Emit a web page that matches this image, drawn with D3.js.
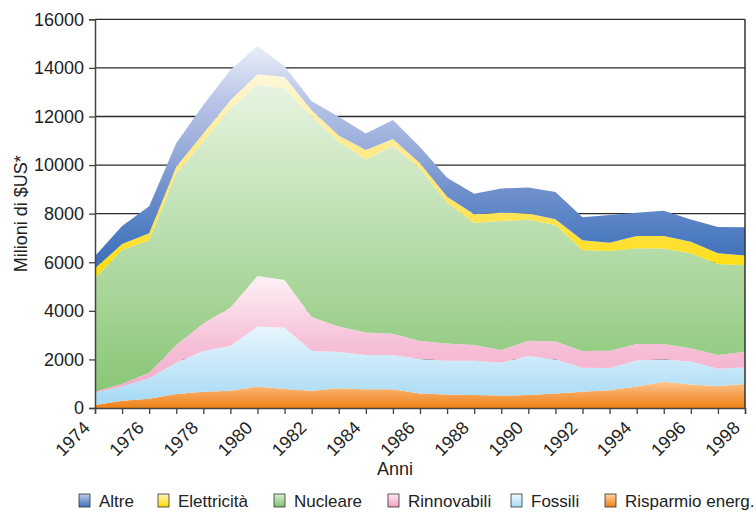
<!DOCTYPE html>
<html>
<head>
<meta charset="utf-8">
<script src="https://cdn.jsdelivr.net/npm/d3@7"></script>
<style>
  html, body { margin: 0; padding: 0; background: #fff; }
  svg { display: block; }
  text { font-family: "Liberation Sans", Arial, Helvetica, sans-serif; fill: #222; }
</style>
</head>
<body>
<svg id="chart" width="756" height="512"></svg>
<script>
// ---------- DATA ----------
const years = [1974,1975,1976,1977,1978,1979,1980,1981,1982,1983,1984,1985,1986,1987,1988,1989,1990,1991,1992,1993,1994,1995,1996,1997,1998];
const risparmio   = [120,300,380,580,670,710,880,780,710,810,770,770,600,560,530,510,530,600,670,730,880,1080,970,910,990];
const fossili     = [510,590,840,1280,1680,1840,2470,2520,1640,1490,1410,1410,1420,1390,1420,1350,1610,1400,990,920,1080,920,940,710,680];
const rinnovabili = [40,110,230,730,1130,1590,2080,1970,1400,1050,930,880,740,710,640,530,630,740,690,710,670,630,550,560,650];
const nucleare    = [4670,5500,5460,7070,7480,8190,7900,7880,8260,7620,7120,7730,7100,5790,5040,5310,4980,4790,4150,4100,3950,3940,3910,3750,3560];
const elettricita = [410,250,280,270,340,340,410,480,250,250,390,280,210,250,350,340,260,240,410,340,500,510,470,440,400];
const altre       = [505,740,1110,970,1170,1240,1160,440,370,770,680,790,670,780,840,1000,1065,1120,940,1140,960,1040,920,1080,1160];

const seriesNames = ["Risparmio energ.", "Fossili", "Rinnovabili", "Nucleare", "Elettricità", "Altre"];
const seriesValues = [risparmio, fossili, rinnovabili, nucleare, elettricita, altre];
const legendOrder = ["Altre", "Elettricità", "Nucleare", "Rinnovabili", "Fossili", "Risparmio energ."];
const yTicks = [0,2000,4000,6000,8000,10000,12000,14000,16000];
const xLabelYears = [1974,1976,1978,1980,1982,1984,1986,1988,1990,1992,1994,1996,1998];
const xTitle = "Anni";
const yTitle = "Milioni di $US*";

// ---------- STYLES ----------
const gradStops = {
  "Altre":        [[260,"#3f70b9"],[225,"#5581c4"],[190,"#7090cc"],[150,"#97acda"],[100,"#b8c5e7"],[50,"#e6ebf6"],[30,"#f4f6fb"]],
  "Elettricità":  [[280,"#ffdb00"],[245,"#ffe030"],[210,"#ffe45e"],[140,"#ffeb94"],[100,"#fff2bf"],[60,"#fffae8"]],
  "Nucleare":     [[408,"#84c471"],[300,"#a6d496"],[213,"#c0e1b5"],[120,"#dcefd4"],[40,"#f6faf3"]],
  "Rinnovabili":  [[395,"#f2aac9"],[340,"#f7c2d9"],[280,"#fdeef5"]],
  "Fossili":      [[400,"#a8dbf4"],[360,"#cdeafa"],[325,"#e8f6fd"]],
  "Risparmio energ.": [[408,"#ee8214"],[395,"#f7a050"],[380,"#fdcb95"]]
};
const legendGrad = {
  "Altre": ["#c0cdea","#3f70b9"],
  "Elettricità": ["#fff5c0","#ffd800"],
  "Nucleare": ["#d8eed0","#7fc06c"],
  "Rinnovabili": ["#fde8f1","#f0a2c4"],
  "Fossili": ["#eef8fe","#a6daf3"],
  "Risparmio energ.": ["#fdd2a2","#ee8214"]
};

// ---------- LAYOUT ----------
const L = 95, R = 745, T = 19.3, B = 408;
const svg = d3.select("#chart");

const x = d3.scaleLinear().domain([1974, 1998]).range([L, R]);
const y = d3.scaleLinear().domain([0, 16000]).range([B, T]);

const table = years.map((yr, i) => {
  const o = { year: yr };
  seriesNames.forEach((n, k) => o[n] = seriesValues[k][i]);
  return o;
});
const stacked = d3.stack().keys(seriesNames)(table);

// gradients
const defs = svg.append("defs");
seriesNames.forEach((n, k) => {
  const g = defs.append("linearGradient").attr("id", "g" + k)
    .attr("gradientUnits", "userSpaceOnUse")
    .attr("x1", 0).attr("x2", 0).attr("y1", B).attr("y2", T);
  gradStops[n].forEach(([py, c]) => {
    g.append("stop").attr("offset", ((B - py) / (B - T))).attr("stop-color", c);
  });
  const lg = defs.append("linearGradient").attr("id", "lg" + k)
    .attr("x1", 0).attr("x2", 0).attr("y1", 0).attr("y2", 1);
  lg.append("stop").attr("offset", 0).attr("stop-color", legendGrad[n][0]);
  lg.append("stop").attr("offset", 1).attr("stop-color", legendGrad[n][1]);
});

// gridlines
svg.append("g").selectAll("line").data(yTicks.filter(v => v > 0)).join("line")
  .attr("x1", L).attr("x2", R)
  .attr("y1", d => y(d)).attr("y2", d => y(d))
  .attr("stroke", "#2a2a2a").attr("stroke-width", 1.3);

// areas
const area = d3.area()
  .x(d => x(d.data.year))
  .y0(d => y(d[0]))
  .y1(d => y(d[1]))
  .curve(d3.curveLinear);

svg.append("g").selectAll("path").data(stacked).join("path")
  .attr("d", area)
  .attr("fill", (d, i) => `url(#g${i})`);

// right border
svg.append("line").attr("x1", R).attr("x2", R).attr("y1", T).attr("y2", B)
  .attr("stroke", "#333").attr("stroke-width", 1.5);

// Y axis
const yAxis = d3.axisLeft(y).tickValues(yTicks).tickSize(6).tickPadding(5).tickFormat(d3.format("d"));
const gy = svg.append("g").attr("transform", `translate(${L},0)`).call(yAxis);
gy.select(".domain").attr("stroke", "#444").attr("stroke-width", 1.5);
gy.selectAll(".tick line").attr("stroke", "#444").attr("stroke-width", 1.3);
gy.selectAll(".tick text").attr("font-size", 18).attr("fill", "#222")
  .attr("font-family", "Liberation Sans, Arial, sans-serif");

// X axis
const xAxis = d3.axisBottom(x).tickValues(years).tickSize(6).tickFormat("");
const gx = svg.append("g").attr("transform", `translate(0,${B})`).call(xAxis);
gx.select(".domain").attr("stroke", "#444").attr("stroke-width", 1.5);
gx.selectAll(".tick line").attr("stroke", "#444").attr("stroke-width", 1.3);

svg.append("g").selectAll("text").data(xLabelYears).join("text")
  .attr("transform", d => `translate(${x(d) - 4},${B + 21}) rotate(-45)`)
  .attr("text-anchor", "end")
  .attr("font-size", 18)
  .text(d => d);

// titles
svg.append("text").attr("x", 395).attr("y", 475).attr("text-anchor", "middle")
  .attr("font-size", 18).text(xTitle);
svg.append("text").attr("transform", `translate(27,${(T + B) / 2}) rotate(-90)`)
  .attr("text-anchor", "middle").attr("font-size", 18).text(yTitle);

// legend
const legendX = [79, 158, 274, 388, 511, 605];
const lgG = svg.append("g");
legendOrder.forEach((n, j) => {
  const k = seriesNames.indexOf(n);
  lgG.append("rect").attr("x", legendX[j]).attr("y", 494).attr("width", 11).attr("height", 13)
    .attr("fill", `url(#lg${k})`).attr("stroke", "#333").attr("stroke-width", 0.8);
  lgG.append("text").attr("x", legendX[j] + 20).attr("y", 507).attr("font-size", 17).text(n);
});
</script>
</body>
</html>
